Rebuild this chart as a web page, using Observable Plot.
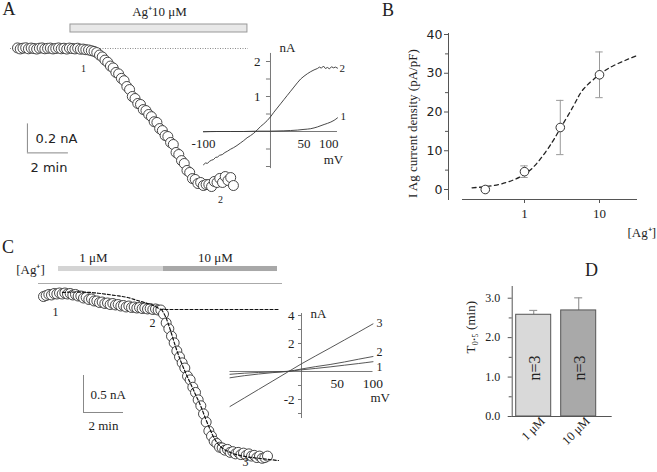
<!DOCTYPE html>
<html>
<head>
<meta charset="utf-8">
<script src="https://cdn.jsdelivr.net/npm/d3@7"></script>
<script src="https://cdn.jsdelivr.net/npm/@observablehq/plot@0.6"></script>
<style>
  html, body { margin: 0; padding: 0; background: #fff; }
  #fig { position: relative; width: 657px; height: 472px; overflow: hidden; background: #fff; }
</style>
</head>
<body>
<div id="fig"></div>
<script>
// ================= DATA =================
// ---- Panel A: current during 10 µM Ag+ (time in s, current in nA) ----
const aTime = [0,8,16,24,32,40,48,56,64,72,80,88,96,104,112,120,128,136,144,152,160,168,176,184,192,200,208,216,224,232,240,248,256,264,272,280,288,296,304,312,320,328,336,344,352,360,368,376,384,392,400,408,416,424,432,440,448,456,464,472,480,488,496,504,512,520,528,536,544,552,560,568,576,584,592,600,608,616,624,632];
const aCurrent = [0.004,-0.003,0.002,0.005,-0.002,0.003,0.0,-0.004,0.002,0.004,-0.002,0.001,0.003,-0.003,0.0,0.004,-0.002,0.002,-0.004,0.003,0.0,-0.003,0.002,-0.005,-0.004,-0.008,-0.01,-0.015,-0.02,
  -0.028,-0.045,-0.058,-0.08,-0.095,-0.121,-0.134,-0.165,-0.175,-0.206,-0.222,-0.262,-0.283,-0.331,-0.345,-0.379,-0.386,-0.421,-0.428,-0.455,-0.47,-0.505,-0.51,-0.552,-0.566,-0.6,-0.607,-0.648,-0.662,-0.717,-0.731,-0.773,-0.793,-0.841,-0.855,-0.897,-0.903,-0.931,-0.924,-0.945,-0.938,-0.938,-0.952,-0.917,-0.924,-0.896,-0.924,-0.883,-0.91,-0.89,-0.945];
const aAgStart = 155, aAgEnd = 673;          // Ag+ application (s)
const aAgLabel = "Ag\u207A10 \u03BCM";
// inset A: I-V curves (mV, nA)
const aIV2mV = [-100,-97,-94,-91,-88,-85,-82,-79,-76,-72,-68,-64,-60,-55,-50,-45,-40,-35,-30,-25,-20,-15,-10,-5,0,5,10,15,20,25,30,35,40,45,50,55,60,65,70,73,76,79,82,85,88,91,94,97,100];
const aIV2nA = [-0.95,-0.9,-0.91,-0.85,-0.82,-0.8,-0.74,-0.73,-0.68,-0.66,-0.6,-0.56,-0.51,-0.46,-0.4,-0.33,-0.26,-0.18,-0.12,-0.05,0.04,0.14,0.22,0.31,0.42,0.55,0.67,0.79,0.91,1.03,1.15,1.27,1.39,1.5,1.58,1.65,1.71,1.76,1.8,1.84,1.81,1.87,1.8,1.83,1.79,1.85,1.82,1.84,1.81];
const aIV1mV = [-100,-80,-60,-40,-20,0,20,40,50,60,70,80,90,95,100];
const aIV1nA = [-0.01,0.0,0.0,0.0,0.01,0.01,0.02,0.04,0.06,0.08,0.13,0.2,0.27,0.32,0.39];
const aInsetYTicks = [-1,-0.5,0.5,1,1.5,2];
const aInsetYLabels = [1,2];
const aInsetXLabels = [-100,50,100];

// ---- Panel B: concentration-response ----
const bConc = [0.3,1,3,10];
const bMean = [0,4.6,16.0,29.6];
const bSem  = [0.5,1.5,7.0,5.9];
const bFitConc = [0.2,0.39,0.72,1.14,1.63,2.34,3.05,4.54,6.17,10.1,15.5,31.8];
const bFitVal  = [0.44,1.03,2.5,4.7,7.9,12.2,16.0,21.7,26.0,29.7,32.0,34.6];
const bYTicks = [0,10,20,30,40];
const bYMinor = [5,15,25,35];
const bXTicks = [1,10];

// ---- Panel C: 1 µM then 10 µM Ag+ (time in s, current in nA) ----
const cTime = [0,8,16,24,32,40,48,56,64,72,80,88,96,104,112,120,128,136,144,152,160,168,176,184,192,200,208,216,224,232,240,248,256,264,272,280,288,296,304,312,320,328,336,344,352,360,368,376,384,392,400,408,416,424,432,440,448,456,464,472,480,488,496,504,512,520,528,536,544,552,560,568,576,584,592,600,608,616,624,632,640,648,656,664,672];
const cCurrent = [-0.014,0.0,0.014,0.007,0.027,0.02,0.034,0.02,0.034,0.02,0.027,0.007,0.014,-0.007,-0.007,-0.034,-0.027,-0.054,-0.047,-0.074,-0.074,-0.095,-0.088,-0.108,-0.101,-0.122,-0.108,-0.128,-0.122,-0.142,-0.135,-0.155,-0.142,-0.162,-0.155,-0.169,-0.162,-0.176,-0.169,-0.182,-0.176,-0.189,-0.182,-0.196,-0.196,
  -0.25,-0.37,-0.45,-0.55,-0.64,-0.75,-0.83,-0.91,-0.98,-1.09,-1.14,-1.24,-1.31,-1.41,-1.49,-1.6,-1.71,-1.83,-1.9,-1.97,-2.0,-2.05,-2.06,-2.09,-2.08,-2.12,-2.11,-2.14,-2.12,-2.15,-2.13,-2.16,-2.14,-2.17,-2.16,-2.19,-2.17,-2.2,-2.19,-2.17];
const cFit1Time = [57,96,141,171,216,252,282,312,336,354,705];
const cFit1Val  = [0.041,0.047,0.041,0.027,0,-0.027,-0.068,-0.108,-0.149,-0.189,-0.189];
const cFit2Time = [354,366,381,396,411,426,441,456,471,486,501,516,531,561,606,651,705];
const cFit2Val  = [-0.189,-0.284,-0.473,-0.689,-0.878,-1.041,-1.189,-1.338,-1.486,-1.662,-1.824,-1.959,-2.041,-2.122,-2.176,-2.203,-2.23];
const cPhaseLabel = ["1 \u03BCM","10 \u03BCM"];
const cPhaseStart = [45,360];
const cPhaseEnd   = [360,702];
// inset C: I-V curves
const cIVmV = [-100,-80,-60,-40,-20,0,20,40,60,80,100];
const cIV1 = [-0.2,-0.12,-0.07,-0.03,0.01,0.12,0.22,0.33,0.45,0.57,0.7];
const cIV2 = [-0.45,-0.3,-0.18,-0.08,0.0,0.18,0.35,0.5,0.68,0.88,1.07];
const cIV3 = [-2.5,-1.89,-1.28,-0.67,-0.06,0.55,1.12,1.68,2.25,2.82,3.4];
const cInsetYTicks = [-3,-2,-1,1,2,3,4];
const cInsetYLabels = [4,2,-2];
const cInsetXLabels = [50,100];

// ---- Panel D: T0.5 bars ----
const dCats = ["1 \u03BCM","10 \u03BCM"];
const dMean = [2.58,2.69];
const dSem  = [0.11,0.32];
const dN    = [3,3];
const dYTicks = [0,1,2,3];
const dYMinor = [0.5,1.5,2.5];

// ================= DRAWING =================
const serif = "Liberation Serif, Times New Roman, serif";
const sans = "DejaVu Sans, Verdana, sans-serif";
const ink = "#222";
const fig = document.getElementById("fig");
const pos = (l, t) => `position:absolute;left:${l}px;top:${t}px;background:transparent;overflow:visible;max-width:none;`;
const label = (s, x, y, o = {}) => Plot.text([s], {x, y, text: d => d, fontFamily: serif, fontSize: 13, fill: ink, ...o});

// ---- A main ----
const aRows = aTime.map((t, i) => ({t, v: aCurrent[i]}));
fig.appendChild(Plot.plot({
  width: 360, height: 240, margin: 0,
  x: {domain: [-49.76, 1003.9], axis: null},
  y: {domain: [-1.3241, 0.3310], axis: null},
  style: pos(0, 0),
  marks: [
    Plot.rect([0], {x1: aAgStart, x2: aAgEnd, y1: 0.1103, y2: 0.1655, fill: "#e8e8e8", stroke: "#999", strokeWidth: 1}),
    label(aAgLabel, 415.6, 0.2497, {fontSize: 13}),
    Plot.ruleY([0], {x1: -20.5, x2: 676, stroke: "#888", strokeDasharray: "1,1.5"}),
    Plot.dot(aRows, {x: "t", y: "v", r: 5, fill: "white", stroke: "#333", strokeWidth: 0.9}),
    label("1", 193, -0.138, {fontSize: 10}),
    label("2", 594, -1.041, {fontSize: 10}),
    Plot.ruleX([29], {y1: -0.52, y2: -0.72, stroke: "#888"}),
    Plot.ruleY([-0.72], {x1: 29, x2: 149, stroke: "#888"}),
    label("0.2 nA", 52.7, -0.621, {fontFamily: sans, textAnchor: "start"}),
    label("2 min", 38, -0.821, {fontFamily: sans, textAnchor: "start"}),
    label("A", -24.9, 0.268, {fontSize: 18})
  ]
}));

// ---- A inset ----
const aIV2 = aIV2mV.map((v, i) => ({v, i: aIV2nA[i]}));
const aIV1 = aIV1mV.map((v, i) => ({v, i: aIV1nA[i]}));
fig.appendChild(Plot.plot({
  width: 170, height: 140, margin: 0,
  x: {domain: [-119.40, 134.33], axis: null},
  y: {domain: [-1.4, 2.6], axis: null},
  style: pos(190, 40),
  marks: [
    Plot.ruleY([0], {x1: -100, x2: 100, stroke: "#555", strokeWidth: 0.8}),
    Plot.ruleX([0], {y1: -1.06, y2: 2.23, stroke: "#555", strokeWidth: 0.8}),
    Plot.ruleY(aInsetYTicks, {x1: -6, x2: 0, stroke: "#555", strokeWidth: 0.8}),
    Plot.text(aInsetYLabels, {x: -15, y: d => d, text: d => String(d), textAnchor: "end", fontFamily: serif, fontSize: 13, fill: ink}),
    Plot.text(aInsetXLabels.filter(d => d !== 100), {x: d => d, y: -0.343, text: d => String(d), fontFamily: serif, fontSize: 13, fill: ink}),
    Plot.text(aInsetXLabels.filter(d => d === 100), {x: d => d, y: -0.343, text: d => String(d), textAnchor: "end", dx: 1, fontFamily: serif, fontSize: 13, fill: ink}),
    label("mV", 94, -0.8),
    label("nA", 25.4, 2.4),
    Plot.line(aIV2, {x: "v", y: "i", stroke: "#333", strokeWidth: 0.9}),
    Plot.line(aIV1, {x: "v", y: "i", stroke: "#333", strokeWidth: 0.9, curve: "monotone-x"}),
    label("2", 103, 1.8, {fontSize: 11, textAnchor: "start"}),
    label("1", 104.5, 0.43, {fontSize: 11, textAnchor: "start"})
  ]
}));

// ---- B ----
const bRows = bConc.map((c, i) => ({c, m: bMean[i], e: bSem[i]}));
const bFit = bFitConc.map((c, i) => ({c, v: bFitVal[i]}));
fig.appendChild(Plot.plot({
  width: 297, height: 240, marginLeft: 88, marginRight: 20, marginTop: 33, marginBottom: 41,
  x: {type: "log", domain: [0.09698, 32.11], axis: null},
  y: {domain: [-2.58, 40.26], axis: null},
  style: pos(360, 0),
  marks: [
    Plot.frame({anchor: "left", stroke: "#555"}),
    Plot.ruleY([-2.58], {x1: 0.149, x2: 32.11, stroke: "#555"}),
    Plot.axisY({anchor: "left", ticks: bYTicks, tickSize: 4, tickPadding: 2, fontFamily: sans, fontSize: 12.5, stroke: "#555", fill: ink, label: null}),
    Plot.axisY({anchor: "left", ticks: bYMinor, tickSize: 3, tickFormat: () => "", stroke: "#555", label: null}),
    Plot.axisX({anchor: "bottom", ticks: bXTicks, tickSize: 4, tickPadding: 5, tickFormat: d => String(d), fontFamily: serif, fontSize: 13, stroke: "#555", fill: ink, label: null}),
    Plot.line(bFit, {x: "c", y: "v", curve: "natural", stroke: "#222", strokeWidth: 1.3, strokeDasharray: "4,3.5"}),
    Plot.ruleX(bRows, {x: "c", y1: d => d.m - d.e, y2: d => d.m + d.e, stroke: "#999"}),
    Plot.ruleY(bRows, {y: d => d.m + d.e, x1: d => d.c / 1.12, x2: d => d.c * 1.12, stroke: "#999"}),
    Plot.ruleY(bRows, {y: d => d.m - d.e, x1: d => d.c / 1.12, x2: d => d.c * 1.12, stroke: "#999"}),
    Plot.dot(bRows, {x: "c", y: "m", r: 4.3, fill: "white", stroke: "#333", strokeWidth: 1}),
    label("I Ag current density (pA/pF)", 0.0321, 17.0, {rotate: -90}),
    label("[Ag\u207A]", 23.6, -11.1, {textAnchor: "start"}),
    label("B", 0.01514, 46.2, {fontSize: 18})
  ]
}));

// ---- C main ----
const cRows = cTime.map((t, i) => ({t, v: cCurrent[i]}));
const cFit1 = cFit1Time.map((t, i) => ({t, v: cFit1Val[i]}));
const cFit2 = cFit2Time.map((t, i) => ({t, v: cFit2Val[i]}));
const cPhases = cPhaseLabel.map((l, i) => ({l, s: cPhaseStart[i], e: cPhaseEnd[i]}));
fig.appendChild(Plot.plot({
  width: 300, height: 236, margin: 0,
  x: {domain: [-129, 771], axis: null},
  y: {domain: [-2.3919, 0.7973], axis: null},
  color: {type: "ordinal", domain: cPhaseLabel, range: ["#d4d4d4", "#a8a8a8"]},
  style: pos(0, 236),
  marks: [
    label("C", -106.5, 0.649, {fontSize: 18}),
    label("[Ag\u207A]", -39, 0.351),
    Plot.rect(cPhases, {x1: "s", x2: "e", y1: 0.324, y2: 0.392, fill: "l"}),
    label(cPhaseLabel[0], 150, 0.514),
    label(cPhaseLabel[1], 516, 0.514),
    Plot.ruleY([0.162], {x1: -15, x2: 717, stroke: "#aaa"}),
    Plot.dot(cRows, {x: "t", y: "v", r: 5, fill: "white", stroke: "#333", strokeWidth: 0.9}),
    Plot.line(cFit1, {x: "t", y: "v", curve: "monotone-x", stroke: "#111", strokeWidth: 1.2, strokeDasharray: "3,2"}),
    Plot.line(cFit2, {x: "t", y: "v", curve: "monotone-x", stroke: "#111", strokeWidth: 1.2, strokeDasharray: "3,2"}),
    label("1", 36, -0.23, {fontSize: 12}),
    label("2", 327, -0.378, {fontSize: 12}),
    label("3", 606, -2.257, {fontSize: 12}),
    Plot.ruleX([120], {y1: -1.081, y2: -1.581, stroke: "#888"}),
    Plot.ruleY([-1.581], {x1: 120, x2: 240, stroke: "#888"}),
    label("0.5 nA", 141, -1.338, {textAnchor: "start"}),
    label("2 min", 135, -1.757, {textAnchor: "start"})
  ]
}));

// ---- C inset ----
const cIV = [cIV1, cIV2, cIV3].flatMap((arr, k) => arr.map((i, j) => ({v: cIVmV[j], i, k})));
fig.appendChild(Plot.plot({
  width: 165, height: 125, margin: 0,
  x: {domain: [-106.29, 124.48], axis: null},
  y: {domain: [-3.857, 5.071], axis: null},
  style: pos(225, 300),
  marks: [
    Plot.ruleY([0], {x1: -100, x2: 100, stroke: "#555", strokeWidth: 0.8}),
    Plot.ruleX([0], {y1: -3.36, y2: 4.14, stroke: "#555", strokeWidth: 0.8}),
    Plot.ruleY(cInsetYTicks, {x1: -4.2, x2: 0, stroke: "#555", strokeWidth: 0.8}),
    Plot.text(cInsetYLabels, {x: -9.8, y: d => d, text: d => String(d), textAnchor: "end", fontFamily: serif, fontSize: 13, fill: ink}),
    Plot.text(cInsetXLabels, {x: d => d, y: -0.85, text: d => String(d), fontFamily: serif, fontSize: 13.5, fill: ink}),
    label("mV", 110, -1.9),
    label("nA", 23.8, 4.14),
    Plot.line(cIV, {x: "v", y: "i", z: "k", curve: "monotone-x", stroke: "#444", strokeWidth: 0.9}),
    label("3", 104.9, 3.43, {fontSize: 12, textAnchor: "start"}),
    label("2", 104.9, 1.36, {fontSize: 12, textAnchor: "start"}),
    label("1", 104.9, 0.33, {fontSize: 12, textAnchor: "start"})
  ]
}));

// ---- D ----
const dRows = dCats.map((c, i) => ({c, m: dMean[i], e: dSem[i], n: dN[i]}));
fig.appendChild(Plot.plot({
  width: 197, height: 222, marginLeft: 51.7, marginRight: 45.3, marginTop: 36, marginBottom: 56,
  x: {type: "band", domain: dCats, range: [55.7, 135.7], paddingInner: 0.2222, paddingOuter: 0, round: false, axis: null},
  y: {domain: [0, 3.297], axis: null},
  color: {type: "ordinal", domain: dCats, range: ["#d9d9d9", "#a9a9a9"]},
  style: pos(460, 250),
  marks: [
    Plot.ruleX(dRows, {x: "c", y1: "m", y2: d => d.m + d.e, stroke: "#999", strokeWidth: 1.2}),
    Plot.tickY(dRows, {x: "c", y: d => d.m + d.e, stroke: "#999", strokeWidth: 1.2, insetLeft: 13.5, insetRight: 13.5}),
    Plot.barY(dRows, {x: "c", y: "m", fill: "c", stroke: "#555", strokeWidth: 1}),
    Plot.frame({anchor: "left", stroke: "#555"}),
    Plot.ruleY([0], {stroke: "#555"}),
    Plot.axisY({anchor: "left", ticks: dYTicks, tickSize: 4, tickPadding: 8, tickFormat: d3.format(".1f"), fontFamily: serif, fontSize: 12, stroke: "#555", fill: ink, label: null}),
    Plot.axisY({anchor: "left", ticks: dYMinor, tickSize: 3, tickFormat: () => "", stroke: "#555", label: null}),
    Plot.text(dRows, {x: "c", y: 1.23, text: d => `n=${d.n}`, rotate: -90, dx: 1.5, fontFamily: serif, fontSize: 16, fill: ink}),
    Plot.text(dRows, {x: "c", frameAnchor: "bottom", text: "c", rotate: -45, textAnchor: "end", dx: 12, dy: 5.5, fontFamily: serif, fontSize: 12.5, fill: ink}),
    Plot.text(["T\u2080.\u2085 (min)"], {frameAnchor: "left", y: 1.6, dx: -41.4, text: d => d, rotate: -90, fontFamily: serif, fontSize: 13, fill: ink}),
    Plot.text(["D"], {frameAnchor: "top-left", dx: 72.8, dy: -23, text: d => d, fontFamily: serif, fontSize: 18, fill: ink})
  ]
}));
</script>
</body>
</html>
